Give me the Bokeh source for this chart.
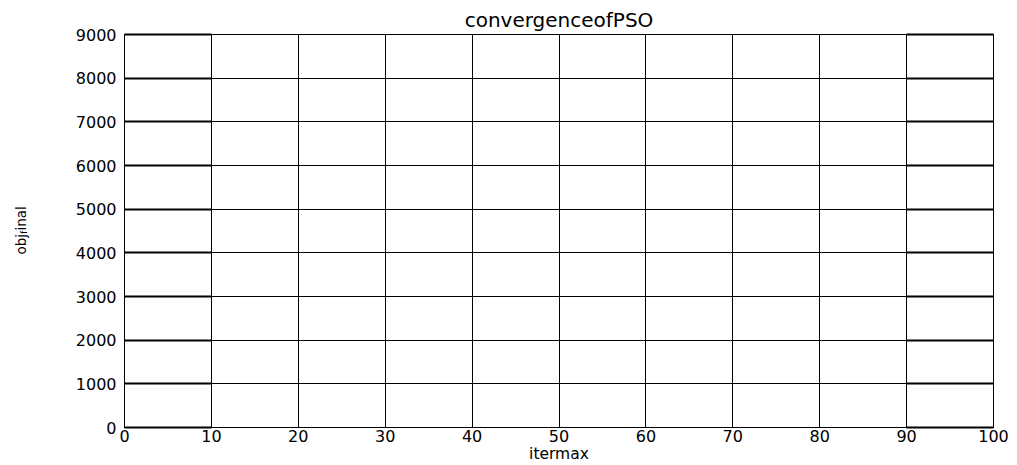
import math
from bokeh.plotting import figure
from bokeh.layouts import row
from bokeh.models import LinearAxis, FixedTicker, Range1d, Label, Grid
from bokeh.embed import file_html
from bokeh.resources import INLINE

# ---- chart content ----
title_text = "convergenceofPSO"
x_label = "itermax"
y_label_parts = ["obj", "f", "inal"]   # obj_final (f rendered as subscript)
x_ticks = [0, 10, 20, 30, 40, 50, 60, 70, 80, 90, 100]
y_ticks = [0, 1000, 2000, 3000, 4000, 5000, 6000, 7000, 8000, 9000]
x_min, x_max = 0, 100
y_min, y_max = 0, 9000

W, H = 1017, 465
LW = 40                               # width of the y-label strip
FL, FR, FT, FB = 124, 993, 34, 427    # frame edges in pixels (whole page)
FONT = "DejaVu Sans"

# ---- y-label strip (its frame gets aligned with the main frame by the row) ----
lab = figure(width=LW, height=H, output_backend="svg", toolbar_location=None,
             x_range=Range1d(0, LW), y_range=Range1d(0, H),
             min_border=0, x_axis_type=None, y_axis_type=None)
lab.outline_line_color = None
lab.background_fill_color = "white"
lab.border_fill_color = "white"
lab.xgrid.visible = False
lab.ygrid.visible = False

big, small = 13.5, 9.5
w_obj = 1.525 * big
w_f = 0.352 * small
py0 = 254
for txt, px, pyy, size in [
    (y_label_parts[0], 20, py0, big),
    (y_label_parts[1], 23, py0 - w_obj, small),
    (y_label_parts[2], 20, py0 - w_obj - w_f, big),
]:
    lab.add_layout(Label(x=px, y=FB - pyy, x_units="screen", y_units="screen",
                         text=txt, angle=math.pi / 2, text_align="left",
                         text_baseline="alphabetic", text_font=FONT,
                         text_font_size=f"{size}px", text_color="black"))

# ---- main plot ----
p = figure(width=W - LW, height=H, output_backend="svg", toolbar_location=None,
           x_range=Range1d(x_min, x_max), y_range=Range1d(y_min, y_max),
           min_border_left=FL - LW, min_border_right=W - FR,
           min_border_top=FT, min_border_bottom=H - FB,
           x_axis_type=None, y_axis_type=None)
p.background_fill_color = "white"
p.border_fill_color = "white"
p.outline_line_color = "black"
p.outline_line_width = 1
p.outline_line_alpha = 1

p.title.text = title_text
p.title.align = "center"
p.title.text_font = FONT
p.title.text_font_size = "20px"
p.title.text_font_style = "normal"
p.title.text_color = "black"
p.title.standoff = 5

tick_len = int(round((FR - FL) * 10 / (x_max - x_min)))

xaxis = LinearAxis(ticker=FixedTicker(ticks=x_ticks))
xaxis.major_tick_in = 0
xaxis.major_tick_out = 0
xaxis.minor_tick_line_color = None
xaxis.axis_line_color = "black"
xaxis.major_label_standoff = 2
xaxis.major_label_text_font = FONT
xaxis.major_label_text_font_size = "16px"
xaxis.major_label_text_color = "black"
xaxis.axis_label = x_label
xaxis.axis_label_standoff = 0
xaxis.axis_label_text_font = FONT
xaxis.axis_label_text_font_size = "15.5px"
xaxis.axis_label_text_font_style = "normal"
xaxis.axis_label_text_color = "black"
p.add_layout(xaxis, "below")

yaxis = LinearAxis(ticker=FixedTicker(ticks=y_ticks))
yaxis.major_tick_in = tick_len
yaxis.major_tick_out = 0
yaxis.major_tick_line_width = 2
yaxis.major_tick_line_color = "black"
yaxis.minor_tick_line_color = None
yaxis.axis_line_color = "black"
yaxis.major_label_standoff = 8
yaxis.major_label_text_font = FONT
yaxis.major_label_text_font_size = "16px"
yaxis.major_label_text_color = "black"
p.add_layout(yaxis, "left")

raxis = LinearAxis(ticker=FixedTicker(ticks=y_ticks))
raxis.major_tick_in = tick_len
raxis.major_tick_out = 0
raxis.major_tick_line_width = 2
raxis.major_tick_line_color = "black"
raxis.minor_tick_line_color = None
raxis.axis_line_color = "black"
raxis.major_label_text_font_size = "0px"
raxis.major_label_text_alpha = 0
raxis.major_label_standoff = 0
p.add_layout(raxis, "right")

gx = Grid(dimension=0, ticker=FixedTicker(ticks=x_ticks), grid_line_color="black",
          grid_line_width=1, grid_line_alpha=1)
gy = Grid(dimension=1, ticker=FixedTicker(ticks=y_ticks), grid_line_color="black",
          grid_line_width=1, grid_line_alpha=1)
p.add_layout(gx)
p.add_layout(gy)

layout = row(lab, p, spacing=0)
open("out.html", "w").write(file_html(layout, INLINE))
